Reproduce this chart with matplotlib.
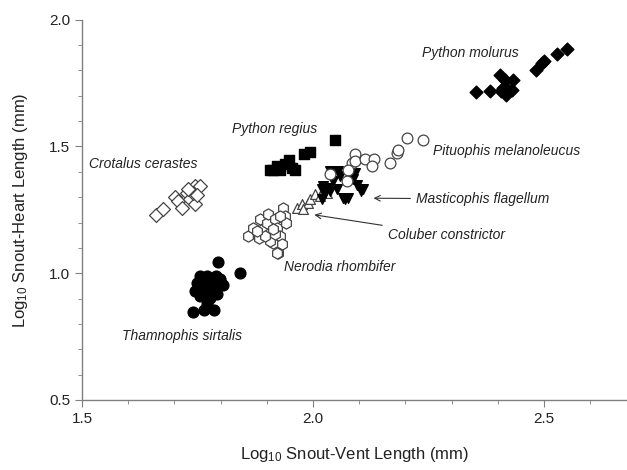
import matplotlib
matplotlib.use('Agg')
import matplotlib.pyplot as plt
from matplotlib.ticker import MultipleLocator

plt.rcParams['font.family'] = ['Liberation Sans', 'DejaVu Sans']
plt.rcParams['mathtext.default'] = 'regular'

# species data (log10 SVL, log10 snout-heart length)
crotalus_x = [1.660, 1.676, 1.701, 1.708, 1.716, 1.727, 1.734, 1.745, 1.755, 1.745, 1.741, 1.748, 1.730]
crotalus_y = [1.228, 1.252, 1.302, 1.285, 1.259, 1.318, 1.291, 1.344, 1.344, 1.272, 1.318, 1.310, 1.331]

thamnophis_x = [1.795, 1.841, 1.755, 1.770, 1.748, 1.763, 1.781, 1.799, 1.806, 1.745, 1.759,
                1.774, 1.784, 1.777, 1.792, 1.741, 1.763, 1.786, 1.755, 1.770, 1.800, 1.750, 1.790]
thamnophis_y = [1.044, 1.000, 0.990, 0.990, 0.963, 0.950, 0.970, 0.976, 0.953, 0.930, 0.930,
                0.924, 0.937, 0.904, 0.917, 0.848, 0.856, 0.856, 0.911, 0.880, 0.960, 0.940, 0.990]

regius_x = [1.907, 1.914, 1.921, 1.929, 1.939, 1.949, 1.954, 1.961, 1.981, 1.994, 2.048]
regius_y = [1.409, 1.409, 1.423, 1.409, 1.429, 1.446, 1.416, 1.409, 1.469, 1.478, 1.525]

nerodia_x = [1.860, 1.871, 1.882, 1.885, 1.892, 1.900, 1.903, 1.907, 1.914, 1.918, 1.921,
             1.929, 1.932, 1.925, 1.936, 1.939, 1.942, 1.929, 1.907, 1.896, 1.918, 1.878,
             1.914, 1.921]
nerodia_y = [1.147, 1.180, 1.140, 1.213, 1.173, 1.199, 1.232, 1.160, 1.121, 1.213, 1.180,
             1.147, 1.114, 1.081, 1.259, 1.226, 1.199, 1.226, 1.127, 1.147, 1.153, 1.167,
             1.173, 1.081]

coluber_x = [1.965, 1.976, 1.990, 1.994, 2.004, 2.015, 2.022, 2.030, 1.979]
coluber_y = [1.259, 1.272, 1.278, 1.291, 1.311, 1.304, 1.324, 1.318, 1.252]

masticophis_x = [2.037, 2.055, 2.058, 2.022, 2.019, 2.030, 2.037, 2.026, 2.051, 2.066,
                 2.076, 2.069, 2.091, 2.087, 2.095, 2.109, 2.044, 2.019, 2.105]
masticophis_y = [1.403, 1.403, 1.383, 1.344, 1.331, 1.337, 1.324, 1.318, 1.331, 1.298,
                 1.298, 1.291, 1.396, 1.370, 1.350, 1.331, 1.364, 1.291, 1.324]

pituophis_x = [2.091, 2.084, 2.091, 2.076, 2.113, 2.131, 2.127, 2.167, 2.181, 2.185,
               2.203, 2.239, 2.037, 2.073]
pituophis_y = [1.469, 1.436, 1.442, 1.409, 1.449, 1.449, 1.423, 1.436, 1.475, 1.488,
               1.534, 1.525, 1.390, 1.364]

molurus_x = [2.354, 2.383, 2.405, 2.416, 2.412, 2.423, 2.434, 2.430, 2.419, 2.408,
             2.484, 2.495, 2.500, 2.528, 2.551]
molurus_y = [1.714, 1.718, 1.783, 1.764, 1.731, 1.724, 1.764, 1.722, 1.705, 1.718,
             1.800, 1.829, 1.836, 1.865, 1.885]

fig = plt.figure(figsize=(6.27, 4.70), dpi=100)
ax = fig.add_axes([0.131, 0.149, 0.869, 0.809])

edge = '#444444'
ax.scatter(crotalus_x, crotalus_y, marker='D', s=50, facecolor='white', edgecolor=edge, linewidth=0.9, zorder=3)
ax.scatter(thamnophis_x, thamnophis_y, marker='o', s=60, color='black', zorder=3)
ax.scatter(nerodia_x, nerodia_y, marker='h', s=65, facecolor='white', edgecolor=edge, linewidth=0.9, zorder=3)
ax.scatter(coluber_x, coluber_y, marker='^', s=50, facecolor='white', edgecolor=edge, linewidth=0.9, zorder=3)
ax.scatter(regius_x, regius_y, marker='s', s=45, color='black', zorder=3)
ax.scatter(masticophis_x, masticophis_y, marker='v', s=48, color='black', zorder=3)
ax.scatter(pituophis_x, pituophis_y, marker='o', s=60, facecolor='white', edgecolor=edge, linewidth=0.9, zorder=4)
ax.scatter(molurus_x, molurus_y, marker='D', s=42, color='black', zorder=3)

lab = dict(fontsize=10, style='italic', color='#222222', va='center')
ax.text(1.514, 1.430, 'Crotalus cerastes', **lab)
ax.text(1.824, 1.570, 'Python regius', **lab)
ax.text(2.235, 1.869, 'Python molurus', **lab)
ax.text(2.260, 1.484, 'Pituophis melanoleucus', **lab)
ax.text(1.937, 1.024, 'Nerodia rhombifer', **lab)
ax.text(1.587, 0.752, 'Thamnophis sirtalis', **lab)
ax.annotate('Masticophis flagellum', xy=(2.125, 1.296), xytext=(2.223, 1.293),
            arrowprops=dict(arrowstyle='->', color='#333333', lw=0.8), **lab)
ax.annotate('Coluber constrictor', xy=(1.997, 1.232), xytext=(2.162, 1.150),
            arrowprops=dict(arrowstyle='->', color='#333333', lw=0.8), **lab)

ax.set_xlim(1.5, 2.68)
ax.set_ylim(0.5, 2.0)
ax.xaxis.set_major_locator(MultipleLocator(0.5))
ax.xaxis.set_minor_locator(MultipleLocator(0.1))
ax.yaxis.set_major_locator(MultipleLocator(0.5))
ax.yaxis.set_minor_locator(MultipleLocator(0.1))
ax.xaxis.set_major_formatter(lambda v, p: f'{v:.1f}')
ax.yaxis.set_major_formatter(lambda v, p: f'{v:.1f}')

for s in ['top', 'right']:
    ax.spines[s].set_visible(False)
for s in ['left', 'bottom']:
    ax.spines[s].set_color('#808080')
    ax.spines[s].set_linewidth(1.0)
ax.tick_params(which='both', direction='out', color='#808080', labelcolor='#222222', labelsize=11)
ax.tick_params(which='major', length=5)
ax.tick_params(which='minor', length=3)

ax.set_xlabel('Log$_{10}$ Snout-Vent Length (mm)', fontsize=12, color='#222222', labelpad=14)
ax.set_ylabel('Log$_{10}$ Snout-Heart Length (mm)', fontsize=12, color='#222222', labelpad=14)

fig.savefig('out.png', dpi=100)
